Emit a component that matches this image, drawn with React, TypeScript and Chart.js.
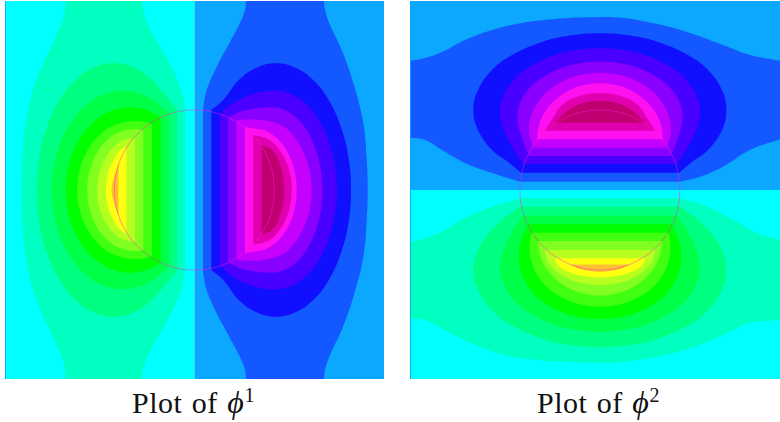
import React, { useEffect, useRef } from "react";
import { Chart, registerables } from "chart.js";

Chart.register(...registerables);

type P = number[];

// Field colour levels
const warmColors = ["#00FFC0", "#00FF80", "#00FF48", "#00FF00", "#40FF10", "#80FF20", "#B8FF20", "#FFFF10", "#FFC030"];
const coolColors = ["#1458FF", "#1010FF", "#4A00FF", "#8800FF", "#C400FF", "#FF10F0", "#E000B0", "#C00070"];
const cyan = "#00FFFF";
const sky = "#0CA8FF";
const circleColor = "rgba(255,30,210,0.5)";
const edgeColor = "#10A0FF";

// Unit circle of the domain
const circle: P[] = [[80,0],[77.3,20.7],[69.3,40],[56.6,56.6],[40,69.3],[20.7,77.3],[0,80],[-20.7,77.3],[-40,69.3],[-56.6,56.6],[-69.3,40],[-77.3,20.7],[-80,0],[-77.3,-20.7],[-69.3,-40],[-56.6,-56.6],[-40,-69.3],[-20.7,-77.3],[0,-80],[20.7,-77.3],[40,-69.3],[56.6,-56.6],[69.3,-40],[77.3,-20.7],[80,0]];

// phi 1: upper half of each contour (the lower half is its reflection)
const phi1Warm: P[][] = [
  [[-172.8,0],[-171.8,40],[-167.8,73],[-161.5,100],[-152.8,123],[-141.5,147],[-132.8,167],[-129.5,180],[-128.8,189],[-128.8,189],[-52.5,189],[-52.5,189],[-51.5,180],[-46.5,165],[-34.5,143],[-22.5,122],[-12.5,97],[-9.5,80]],
  [[-157.8,0],[-155.6,30],[-148.6,60],[-135,90],[-119,110],[-101.7,122],[-81,126.7],[-60,122],[-43,110],[-27,92],[-17,80]],
  [[-142.8,0],[-140.5,25],[-133,50],[-122,70],[-108.4,85],[-92.3,95],[-71.5,99.3],[-50.7,95],[-34.6,85],[-25.5,77]],
  [[-128.8,0],[-126.9,20],[-120.8,40],[-108.7,60],[-96,72],[-80.8,80],[-64.5,82.7],[-48.2,80],[-33.8,73]],
  [[-117.2,0],[-114.8,20],[-106.8,40],[-94.9,55],[-82,64],[-61,69],[-45,67],[-42.5,65]],
  [[-107.2,0],[-104.6,20],[-95.9,40],[-85,52],[-75,58],[-61,61],[-51.2,60]],
  [[-97.2,0],[-94.9,18],[-87.4,35],[-78.4,45],[-69.9,50],[-59.5,52]],
  [[-88.5,0],[-87,15],[-82,28],[-76,38],[-68,44]],
  [[-83,0],[-81,11],[-76,26]],
];
const phi1Cool: P[][] = [
  [[8.5,82],[12.2,100],[22.2,123.3],[33.8,145],[45.5,167],[50.5,180],[51.5,189],[51.5,189],[129.5,189],[129.5,189],[130.5,180],[135.5,165],[147.2,140],[158.8,107],[168.8,67],[172.2,30],[173.2,0]],
  [[16.8,80],[28.7,90],[44.3,110],[61.5,122],[81.5,126.7],[101.5,122],[118.7,110],[134.3,90],[147.5,60],[154.4,30],[156.5,0]],
  [[25.2,75],[37.2,86],[57,95.5],[80.5,99.3],[98.4,95],[112.4,85],[124.2,70],[133.8,50],[140.2,25],[142.2,0]],
  [[33.5,72],[38.8,75],[50,79.5],[77,82.7],[90,80],[102,72],[112,60],[121.5,40],[126.3,20],[127.8,0]],
  [[41.8,67],[44,70],[68,70],[88,64],[98.4,55],[108,40],[115,20],[117.2,0]],
  [[50.5,63.3],[58.8,61.7],[68.8,60],[77,56],[86,48],[94.6,35],[100.3,18],[102.2,0]],
  [[58.8,55],[73.2,51],[81.8,44],[90,32],[95.5,16],[97.2,0]],
  [[67.2,45],[77.4,40],[83.8,30],[88.2,15],[89.5,0]],
];

// phi 2: closed contours
const phi2Cool: P[][] = [
  [[-190,129],[-175,132],[-158,138],[-135,150],[-108,160],[-78,167],[-45,171],[-10,172.7],[23,172],[57,166],[90,157],[123,145],[150,135],[180,129.3],[180,129.3],[180,50.7],[180,50.7],[150,40],[123,23.3],[100,13.3],[80,8.3],[80,8.3],[-80,8.3],[-80,8.3],[-108,17],[-135,27],[-158,40],[-175,50],[-190,52.3]],
  [[-79,17.3],[-92,28],[-108,40],[-122,60],[-126.7,80],[-122,100],[-108,120],[-88,135],[-58,148],[-33,154],[0,156.7],[33,154],[58,148],[88,135],[108,120],[122,100],[126.4,80],[122,60],[108,40],[92,28],[79.3,17.3]],
  [[-77,26],[-88,43],[-96,60],[-100,78],[-96,95],[-86.5,110],[-72,122],[-50,133],[-29,139],[0,141.7],[29,139],[50,133],[72,122],[86.5,110],[96,95],[100,78],[96,60],[88,43],[77,26]],
  [[-71,34],[-79,55],[-82.5,73],[-79.4,88],[-72,100],[-61.3,110],[-43.5,120],[-23.7,126],[0,128.3],[23.7,126],[43.5,120],[61.3,110],[72,100],[79.4,88],[82.5,73],[79,55],[71,34]],
  [[-67,42.3],[-71,60],[-68.5,75],[-60.5,90],[-48.3,102],[-32.4,111],[-17.4,115.5],[0,117.3],[17.4,115.5],[32.4,111],[48.3,102],[60.5,90],[68.5,75],[71,60],[67,42.3]],
  [[-63,50.7],[-61,65],[-53.8,80],[-42.6,92],[-27.7,101],[-15.4,105],[0,106.7],[15.4,105],[27.7,101],[42.6,92],[53.8,80],[61,65],[63,50.7]],
  [[-55,59.3],[-47,72],[-38,85],[-20,94],[0,96.7],[20,94],[38,85],[47,72],[55,59.3]],
  [[-45,67.3],[-33,79],[-17,87],[0,89],[17,87],[33,79],[45,67.3]],
];
const phi2Warm: P[][] = [
  [[-190,-52.7],[-175,-48],[-158,-41.7],[-135,-28],[-108,-16.7],[-80,-8.3],[-80,-8.3],[80,-8.3],[80,-8.3],[103,-15],[130,-28],[156.7,-43],[180,-50],[180,-50],[180,-130],[180,-130],[150,-133],[123,-145],[90,-158.3],[56.7,-166.7],[23,-171.7],[-5,-172.7],[-61.7,-170],[-95,-165],[-128.3,-153.3],[-155,-140],[-175,-130],[-190,-129]],
  [[-80,-16.7],[-100,-31.7],[-118,-52],[-122,-60],[-126.7,-80],[-122,-100],[-108,-120],[-89,-135],[-60,-148],[-37,-154],[0,-157.3],[37,-154],[60,-148],[89,-135],[108,-120],[122,-100],[126.4,-80],[122,-60],[118,-52],[100,-31.7],[80,-16.7]],
  [[-77,-25.7],[-88,-42],[-96,-60],[-100,-78],[-96,-95],[-86.5,-110],[-72,-122],[-50,-133],[-29,-139],[0,-141.7],[29,-139],[50,-133],[72,-122],[86.5,-110],[96,-95],[100,-78],[96,-60],[88,-42],[77,-25.7]],
  [[-72,-34.3],[-79,-52],[-81.5,-68],[-78,-85],[-69.4,-100],[-56.5,-112],[-38,-122],[-20.7,-127],[0,-129],[20.7,-127],[38,-122],[56.5,-112],[69.4,-100],[78,-85],[81.5,-68],[79,-52],[72,-34.3]],
  [[-69,-42.7],[-70.5,-58],[-68.4,-72],[-61.3,-87],[-49.3,-100],[-32.7,-110],[-17,-115],[0,-116.7],[17,-115],[32.7,-110],[49.3,-100],[61.3,-87],[68.4,-72],[70.5,-58],[69,-42.7]],
  [[-62,-51],[-60,-65],[-53.9,-78],[-43.3,-90],[-29.3,-99],[-14.5,-104],[0,-105.5],[14.5,-104],[29.3,-99],[43.3,-90],[53.9,-78],[60,-65],[62,-51]],
  [[-55,-60],[-52.7,-70],[-45,-80],[-33,-88],[-18.3,-93],[0,-95],[18.3,-93],[33,-88],[45,-80],[52.7,-70],[55,-60]],
  [[-45,-68.3],[-43,-74],[-35.5,-80],[-21.5,-85],[0,-87.3],[21.5,-85],[35.5,-80],[43,-74],[45,-68.3]],
  [[-30,-74.5],[-20,-79],[0,-81.7],[20,-79],[30,-74.5]],
];

// Half-plane backgrounds
const phi1Rects: P[][] = [
  [[-190,-190],[0,-190],[0,190],[-190,190]],
  [[0,-190],[190,-190],[190,190],[0,190]],
];
const phi2Rects: P[][] = [
  [[-191,0],[181,0],[181,190],[-191,190]],
  [[-191,-190],[181,-190],[181,0],[-191,0]],
];

const reflect = (h: P[]) => h.slice().reverse().map(([x, y]) => [x, -y]);
const closeOuterFirst = (h: P[]) => [...reflect(h), ...h.slice(1)];
const closeOuterLast = (h: P[]) => [...h, ...reflect(h).slice(1)];

const shape = (pts: P[], color: string, tension = 0.4) => ({
  data: pts.map(([x, y]) => ({ x, y })),
  showLine: true,
  fill: "shape",
  backgroundColor: color,
  borderWidth: 0,
  borderColor: color,
  pointRadius: 0,
  tension,
});

const stroke = (pts: P[], color: string, tension: number) => ({
  data: pts.map(([x, y]) => ({ x, y })),
  showLine: true,
  fill: false,
  borderColor: color,
  borderWidth: 0.9,
  pointRadius: 0,
  tension,
});

function makeChart(canvas: HTMLCanvasElement, layers: any[], xMin: number, xMax: number, edgeX: number) {
  const all = [...layers, stroke(circle, circleColor, 0.4), stroke([[edgeX, -189], [edgeX, 189]], edgeColor, 0)];
  const n = all.length;
  all.forEach((d, i) => (d.order = n - i));
  return new Chart(canvas, {
    type: "scatter",
    data: { datasets: all },
    options: {
      responsive: false,
      animation: false,
      maintainAspectRatio: false,
      layout: { padding: 0 },
      plugins: { legend: { display: false }, tooltip: { enabled: false }, title: { display: false } },
      scales: {
        x: { type: "linear", min: xMin, max: xMax, display: false },
        y: { type: "linear", min: -189, max: 189, display: false },
      },
    },
  } as any);
}

const captionStyle = (left: number): React.CSSProperties => ({
  position: "absolute",
  left,
  top: 385,
  fontFamily: "'Liberation Serif', serif",
  fontSize: 30,
  lineHeight: "34px",
  whiteSpace: "nowrap",
  color: "#111",
  wordSpacing: 1.5,
  letterSpacing: 0.5,
});

const Caption = ({ left, n }: { left: number; n: string }) => (
  <div style={captionStyle(left)}>
    Plot of <i style={{ fontSize: 32 }}>ϕ</i>
    <span style={{ fontSize: 20, position: "relative", top: -11 }}>{n}</span>
  </div>
);

export default function App() {
  const a = useRef<HTMLCanvasElement>(null);
  const b = useRef<HTMLCanvasElement>(null);
  useEffect(() => {
    const left = [
      shape(phi1Rects[0], cyan, 0),
      shape(phi1Rects[1], sky, 0),
      ...phi1Warm.map((h, i) => shape(closeOuterFirst(h), warmColors[i])),
      ...phi1Cool.map((h, i) => shape(closeOuterLast(h), coolColors[i])),
    ];
    const right = [
      shape(phi2Rects[0], sky, 0),
      shape(phi2Rects[1], cyan, 0),
      ...phi2Cool.map((p, i) => shape(p, coolColors[i])),
      ...phi2Warm.map((p, i) => shape(p, warmColors[i])),
    ];
    const c1 = makeChart(a.current!, left, -189.5, 189.5, -189);
    const c2 = makeChart(b.current!, right, -190, 180, -189.5);
    return () => {
      c1.destroy();
      c2.destroy();
    };
  }, []);
  return (
    <div style={{ position: "absolute", left: 0, top: 0, width: 780, height: 422, overflow: "hidden", background: "#fff" }}>
      <canvas ref={a} width={379} height={378} style={{ position: "absolute", left: 5, top: 1 }} />
      <canvas ref={b} width={370} height={378} style={{ position: "absolute", left: 410, top: 1 }} />
      <Caption left={132} n="1" />
      <Caption left={537} n="2" />
    </div>
  );
}
